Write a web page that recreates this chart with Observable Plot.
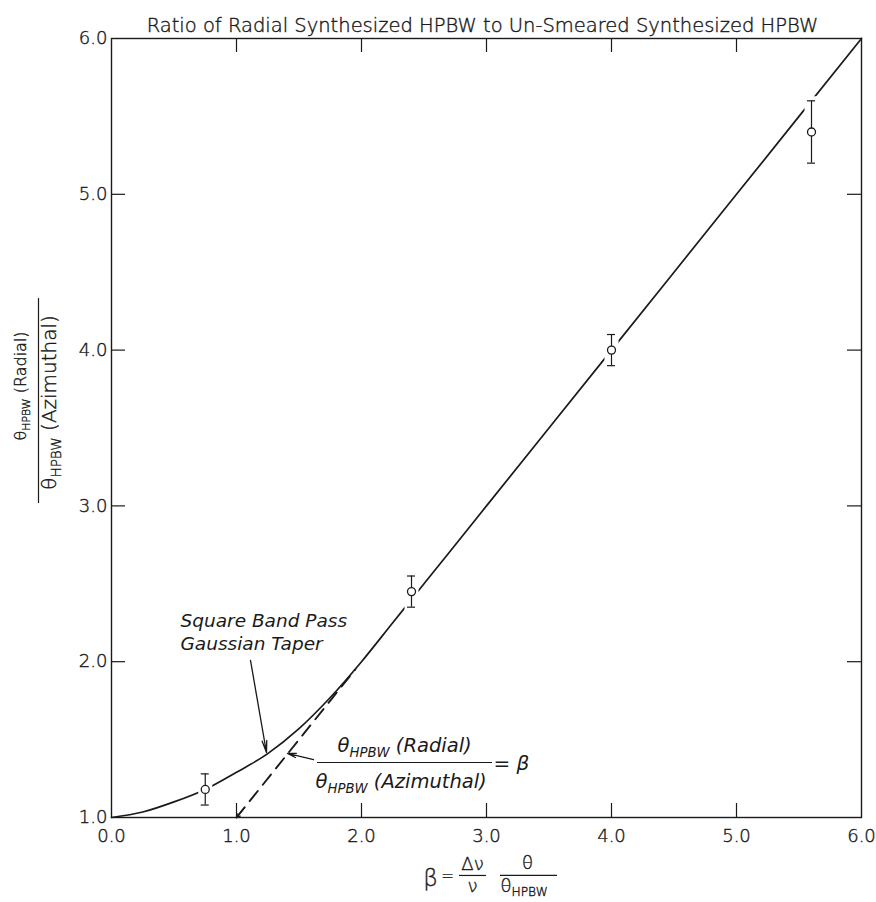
<!DOCTYPE html>
<html><head><meta charset="utf-8">
<script src="https://cdn.jsdelivr.net/npm/d3@7"></script>
<script src="https://cdn.jsdelivr.net/npm/@observablehq/plot@0.6"></script>
<style>
body{margin:0;background:#fff;}
svg g[aria-label^="x-axis"] text, svg g[aria-label^="y-axis"] text { font-weight: 300; stroke: #1a1a1a; stroke-width: 0.4px; }
</style>
</head><body><div id="chart"></div>
<script>
// ---- data ----
const xTickValues = [0, 1, 2, 3, 4, 5, 6];
const yTickValues = [1, 2, 3, 4, 5, 6];
const innerXTicks = [1, 2, 3, 4, 5];
const innerYTicks = [2, 3, 4, 5];

// solid curve: Square Band Pass, Gaussian Taper
const curveBeta  = [0, 0.25, 0.5, 0.75, 1.0, 1.25, 1.5, 1.75, 2.0, 2.25, 2.5, 3, 4, 5, 6];
const curveRatio = [1.0, 1.035, 1.10, 1.18, 1.29, 1.41, 1.57, 1.77, 2.0, 2.25, 2.5, 3, 4, 5, 6];

// dashed asymptote: ratio = beta
const asymBeta  = [1.0, 1.95];
const asymRatio = [1.0, 1.95];

// measured points with error bars
const measBeta  = [0.75, 2.4, 4.0, 5.6];
const measRatio = [1.18, 2.45, 4.0, 5.4];
const measLow   = [1.08, 2.35, 3.9, 5.2];
const measHigh  = [1.28, 2.55, 4.1, 5.6];

const titleText = "Ratio of Radial Synthesized HPBW to Un-Smeared Synthesized HPBW";

// ---- tables ----
const curve = curveBeta.map((b, i) => ({b, r: curveRatio[i]}));
const asym = asymBeta.map((b, i) => ({b, r: asymRatio[i]}));
const meas = measBeta.map((b, i) => ({b, r: measRatio[i], lo: measLow[i], hi: measHigh[i]}));

const FONT = "DejaVu Sans";
const INK = "#1a1a1a";
const up = {fill: INK, stroke: INK, strokeWidth: 0.4, fontWeight: 300};
const it = {fill: INK, fontStyle: "italic"};

const svg = Plot.plot({
  width: 876, height: 902,
  marginLeft: 111, marginRight: 15, marginTop: 38, marginBottom: 85,
  style: {fontFamily: FONT, fontSize: "18px", background: "white", color: INK},
  x: {domain: [0, 6], ticks: xTickValues, tickSize: 0, tickPadding: 12, tickFormat: d => d.toFixed(1), label: null},
  y: {domain: [1, 6], ticks: yTickValues, tickSize: 0, tickPadding: 4, tickFormat: d => d.toFixed(1), label: null},
  marks: [
    Plot.frame({stroke: INK, strokeWidth: 1.4}),
    // inward ticks
    Plot.ruleX(innerXTicks, {x: d => d, y1: 1, y2: 1, insetBottom: 14, stroke: INK, strokeWidth: 1.2}),
    Plot.ruleX(innerXTicks, {x: d => d, y1: 6, y2: 6, insetTop: 14, stroke: INK, strokeWidth: 1.2}),
    Plot.ruleY(innerYTicks, {y: d => d, x1: 0, x2: 0, insetLeft: 14, stroke: INK, strokeWidth: 1.2}),
    Plot.ruleY(innerYTicks, {y: d => d, x1: 6, x2: 6, insetRight: 14, stroke: INK, strokeWidth: 1.2}),
    // curves
    Plot.line(curve, {x: "b", y: "r", curve: "monotone-x", stroke: INK, strokeWidth: 1.7}),
    Plot.line(asym, {x: "b", y: "r", stroke: INK, strokeWidth: 1.9, strokeDasharray: "13,8"}),
    Plot.arrow([0], {x1: 1.06, y1: 1.06, x2: 1.0, y2: 1.0, stroke: INK, strokeWidth: 1.3, headLength: 8}),
    // knockout halos, error bars, points
    Plot.ruleX(meas, {x: "b", y1: "hi", y2: "lo", stroke: "white", strokeWidth: 14, insetTop: -4, insetBottom: -4}),
    Plot.ruleX(meas, {x: "b", y1: "hi", y2: "lo", stroke: INK, strokeWidth: 1.2}),
    Plot.ruleY(meas, {y: "lo", x1: "b", x2: "b", insetLeft: -4, insetRight: -4, stroke: INK, strokeWidth: 1.2}),
    Plot.ruleY(meas, {y: "hi", x1: "b", x2: "b", insetLeft: -4, insetRight: -4, stroke: INK, strokeWidth: 1.2}),
    Plot.dot(meas, {x: "b", y: "r", r: 4, fill: "white", stroke: INK, strokeWidth: 1.3}),
    // annotation 1
    Plot.text(["Square Band Pass\nGaussian Taper"], {x: 0.552, y: 2.072, text: d => d, textAnchor: "start", lineAnchor: "bottom", lineHeight: 1.25, fontSize: 18.5, ...it}),
    Plot.arrow([0], {x1: 1.112, y1: 2.008, x2: 1.24, y2: 1.417, stroke: INK, strokeWidth: 1.3, headLength: 14, headAngle: 22}),
    // annotation 2
    Plot.text(["θ_{HPBW} (Radial)"], {x: 1.808, y: 1.462, text: d => d, textAnchor: "start", fontSize: 19.5, ...it}),
    Plot.ruleY([1.353], {y: d => d, x1: 1.648, x2: 3.048, stroke: INK, strokeWidth: 1.2}),
    Plot.text(["θ_{HPBW} (Azimuthal)"], {x: 1.632, y: 1.231, text: d => d, textAnchor: "start", fontSize: 19.5, ...it}),
    Plot.text(["= β"], {x: 3.056, y: 1.347, text: d => d, textAnchor: "start", fontSize: 20, ...it}),
    Plot.arrow([0], {x1: 1.616, y1: 1.372, x2: 1.408, y2: 1.411, stroke: INK, strokeWidth: 1.3, headLength: 12, headAngle: 28}),
    // x axis label
    Plot.text(["β"], {x: 2.552, y: 0.6085, text: d => d, fontSize: 23, ...up}),
    Plot.text(["="], {x: 2.688, y: 0.621, text: d => d, fontSize: 15, ...up}),
    Plot.text(["Δν"], {x: 2.888, y: 0.6983, text: d => d, fontSize: 18, ...up}),
    Plot.ruleY([0.628], {y: d => d, x1: 2.784, x2: 3.0, stroke: INK, strokeWidth: 1.2}),
    Plot.text(["ν"], {x: 2.888, y: 0.5571, text: d => d, fontSize: 18, ...up}),
    Plot.text(["θ"], {x: 3.328, y: 0.705, text: d => d, fontSize: 18, ...up}),
    Plot.ruleY([0.628], {y: d => d, x1: 3.112, x2: 3.568, stroke: INK, strokeWidth: 1.2}),
    Plot.text(["θ_{HPBW}"], {x: 3.112, y: 0.56, text: d => d, textAnchor: "start", fontSize: 18, ...up}),
    // y axis label
    Plot.text(["θ_{HPBW} (Radial)"], {x: -0.724, y: 3.77, text: d => d, rotate: -90, fontSize: 16, ...up}),
    Plot.ruleX([-0.584], {x: d => d, y1: 3.015, y2: 4.331, stroke: INK, strokeWidth: 1.2}),
    Plot.text(["θ_{HPBW} (Azimuthal)"], {x: -0.492, y: 3.664, text: d => d, rotate: -90, fontSize: 20, ...up}),
    // title
    Plot.text([titleText], {frameAnchor: "top", dx: -4, dy: -20, text: d => d, fontSize: 19.5, ...up})
  ]
});

// subscripts: "_{...}" -> smaller, lowered tspan
svg.querySelectorAll("text").forEach(node => {
  const raw = node.textContent;
  if (!raw.includes("_{")) return;
  const parts = raw.split(/_\{([^}]*)\}/);
  node.textContent = "";
  let shifted = false;
  parts.forEach((p, i) => {
    if (p === "") return;
    const t = document.createElementNS("http://www.w3.org/2000/svg", "tspan");
    t.textContent = p;
    if (i % 2 === 1) { t.setAttribute("font-size", "68%"); t.setAttribute("dy", "0.36em"); shifted = true; }
    else if (shifted) { t.setAttribute("dy", "-0.245em"); shifted = false; }
    node.appendChild(t);
  });
});

document.getElementById("chart").appendChild(svg);
</script>
</body></html>
